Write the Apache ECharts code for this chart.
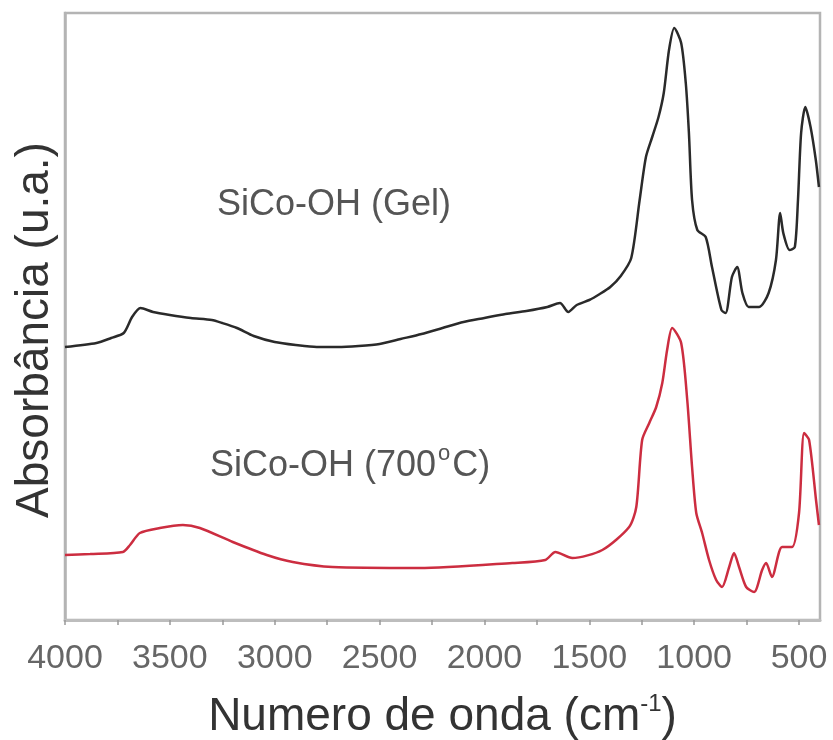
<!DOCTYPE html>
<html>
<head>
<meta charset="utf-8">
<script src="https://cdn.jsdelivr.net/npm/echarts@6/dist/echarts.min.js"></script>
<style>html,body{margin:0;padding:0;background:#fff}#c{width:833px;height:740px}</style>
</head>
<body>
<div id="c"></div>
<script>
// Wavenumbers (cm-1) and absorbance (arbitrary units)
var gelWn  = [4000,3850,3780,3720,3680,3640,3580,3500,3400,3300,3250,3180,3100,3000,2900,2800,2700,2600,2500,2400,2300,2200,2100,2000,1900,1800,1700,1640,1600,1560,1500,1450,1400,1350,1300,1260,1230,1200,1170,1145,1120,1095,1062,1040,1025,1010,985,945,915,870,850,820,795,770,740,690,645,610,590,575,545,520,505,490,470,445,420,405];
var gelAbs = [273,277,282,287,303,312,308,305,302,300,297,292,284,278,275,273,273,274,276,281,286,292,298,302,306,309,313,317,308,315,320,326,333,344,362,420,463,483,503,527,570,592,577,537,487,420,390,383,353,310,307,343,353,327,313,313,327,360,407,387,370,373,420,487,513,493,460,433];

var hotWn  = [4000,3880,3724,3690,3643,3548,3438,3357,3200,3038,2914,2724,2310,1867,1710,1662,1581,1438,1310,1276,1248,1214,1181,1152,1129,1105,1062,1033,1010,990,962,929,895,867,833,810,786,752,714,676,657,629,581,533,500,476,452,419,405];
var hotAbs = [65,66,68,75,87,92,95,92,78,65,58,53,52,57,60,68,62,70,93,113,180,197,213,237,270,292,277,220,153,107,87,60,40,33,53,67,53,33,28,50,57,43,73,73,107,187,180,120,95];

var tickLabels = [4000,3500,3000,2500,2000,1500,1000,500];
var minorTicks = [4000,3750,3500,3250,3000,2750,2500,2250,2000,1750,1500,1250,1000,750,500];

var gelLabel = 'SiCo-OH (Gel)';
var hotLabel = 'SiCo-OH (700{sup|o}C)';
var yTitle = 'Absorbância (u.a.)';

function pairs(x, y){ return x.map(function(v,i){ return [v, y[i]]; }); }

var chart = echarts.init(document.getElementById('c'));
chart.setOption({
  animation:false,
  backgroundColor:'#fff',
  grid:{left:65,right:13,top:13,bottom:120,outerBoundsMode:'none',containLabel:false,show:true,borderColor:'#b4b4b4',borderWidth:2.5},
  xAxis:{
    type:'value', inverse:true, min:400, max:4000,
    name:'Numero de onda (cm{sup|-1})',
    nameLocation:'middle', nameGap:72,
    nameTextStyle:{fontFamily:'Liberation Sans, Arial', fontSize:46, color:'#333',
      rich:{sup:{fontSize:24, verticalAlign:'bottom', padding:[0,0,26,0], color:'#333', fontFamily:'Liberation Sans, Arial'}}},
    axisLine:{show:true, lineStyle:{color:'#bdbdbd', width:3}},
    axisTick:{show:true, customValues:minorTicks, length:5, inside:false, lineStyle:{color:'#999', width:1.5}},
    axisLabel:{customValues:tickLabels, margin:22, fontFamily:'Liberation Sans, Arial', fontSize:34, color:'#666',
      formatter:function(v){ return String(v); }},
    splitLine:{show:false}
  },
  yAxis:{
    type:'value', min:0, max:607,
    axisLine:{show:true, lineStyle:{color:'#b4b4b4', width:2.5}},
    axisTick:{show:false}, axisLabel:{show:false}, splitLine:{show:false}
  },
  series:[
    {type:'line', data:pairs(gelWn, gelAbs), showSymbol:false, smooth:0.25,
     lineStyle:{color:'#2a2a2a', width:2.5}},
    {type:'line', data:pairs(hotWn, hotAbs), showSymbol:false, smooth:0.25,
     lineStyle:{color:'#cc2d40', width:2.5}}
  ],
  graphic:[
    {type:'text', x:35, y:330, rotation:Math.PI/2,
     style:{text:yTitle, fontFamily:'Liberation Sans, Arial', fontSize:46, fill:'#333', align:'center', verticalAlign:'middle'}},
    {type:'text', left:217, top:187, style:{text:gelLabel, fontFamily:'Liberation Sans, Arial', fontSize:36, fill:'#555'}},
    {type:'text', left:210, top:443, style:{text:hotLabel, fontFamily:'Liberation Sans, Arial', fontSize:36, fill:'#555',
      rich:{sup:{fontSize:22, fill:'#555', padding:[0,2,24,2], verticalAlign:'bottom'}}}}
  ]
});
</script>
</body>
</html>
